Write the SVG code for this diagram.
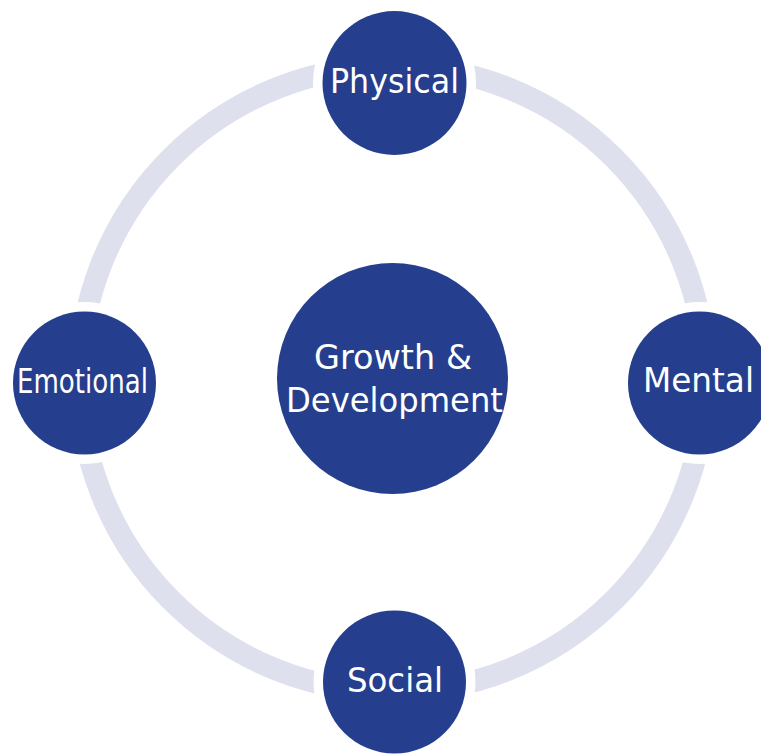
<svg xmlns="http://www.w3.org/2000/svg" width="761" height="754" viewBox="0 0 761 754">
<style>
.node{fill:#253F8E;stroke:#FFFFFF;stroke-width:19;paint-order:stroke}
.center{fill:#253F8E}
.lbl{fill:#FFFFFF;font-family:"DejaVu Sans","Open Sans",sans-serif;font-size:33px;text-anchor:middle}
.ring{fill:none;stroke:#DFE0EE;stroke-width:22}
</style>
<rect width="761" height="754" fill="#FFFFFF"/>
<g id="connectors">
<circle class="ring" cx="392.5" cy="379" r="313"/>
</g>
<g id="center">
<circle class="center" cx="392.5" cy="378.5" r="115.5"/>
<text class="lbl" x="393" y="369" textLength="158" lengthAdjust="spacingAndGlyphs">Growth &amp;</text>
<text class="lbl" x="394.5" y="412" textLength="217" lengthAdjust="spacingAndGlyphs">Development</text>
</g>
<g id="physical">
<circle class="node" cx="394.5" cy="83" r="72"/>
<text class="lbl" x="394.5" y="93" textLength="129" lengthAdjust="spacingAndGlyphs">Physical</text>
</g>
<g id="mental">
<circle class="node" cx="699.5" cy="383" r="71.5"/>
<text class="lbl" x="698.5" y="392" textLength="111" lengthAdjust="spacingAndGlyphs">Mental</text>
</g>
<g id="social">
<circle class="node" cx="394.5" cy="682" r="71.5"/>
<text class="lbl" x="395" y="692" textLength="96" lengthAdjust="spacingAndGlyphs">Social</text>
</g>
<g id="emotional">
<circle class="node" cx="84.5" cy="383" r="71.5"/>
<text class="lbl" x="82.5" y="393" textLength="131" lengthAdjust="spacingAndGlyphs">Emotional</text>
</g>
</svg>
